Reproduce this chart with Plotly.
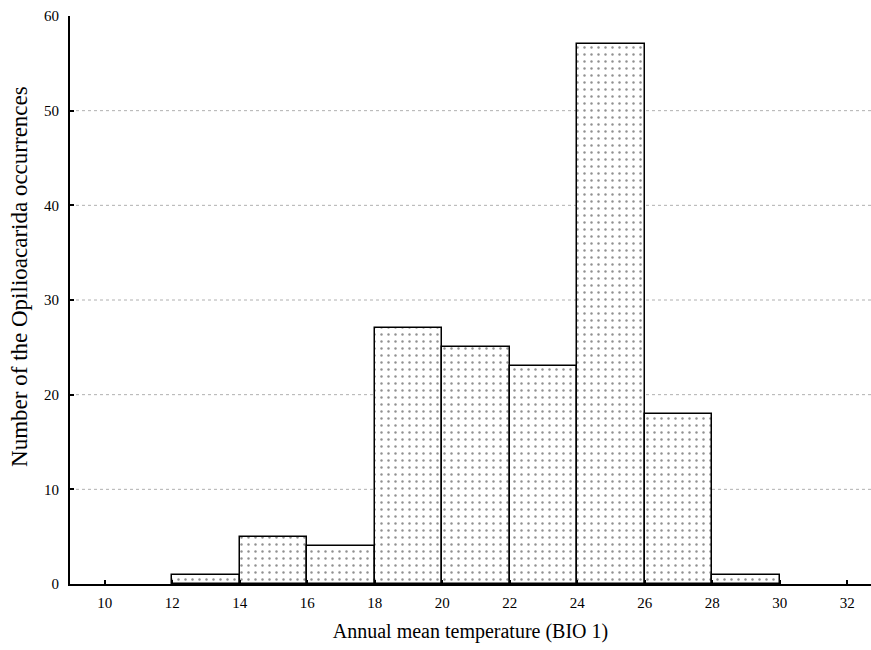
import plotly.graph_objects as go

bin_left = [12, 14, 16, 18, 20, 22, 24, 26, 28]
bin_width = 2
counts = [1, 5, 4, 27, 25, 23, 57, 18, 1]
x_ticks = [10, 12, 14, 16, 18, 20, 22, 24, 26, 28, 30, 32]
y_ticks = [0, 10, 20, 30, 40, 50, 60]
grid_y = [10, 20, 30, 40, 50]

centers = [b + bin_width / 2 for b in bin_left]

fig = go.Figure()
fig.add_trace(go.Bar(
    x=centers, y=counts, width=[bin_width] * len(counts),
    marker=dict(
        color="white",
        line=dict(color="black", width=1.5),
        pattern=dict(shape=".", fgcolor="#222222", bgcolor="white", size=7, solidity=0.1),
    ),
    showlegend=False,
))

for g in grid_y:
    fig.add_shape(type="line", xref="paper", yref="y", x0=0, x1=1, y0=g, y1=g,
                  line=dict(color="#b0b0b0", width=1, dash="dot"), layer="below")

fig.add_annotation(
    text="Number of the Opilioacarida occurrences", textangle=-90,
    xref="paper", yref="paper", x=-0.064, y=0.542, showarrow=False,
    xanchor="center", yanchor="middle", font=dict(size=23),
)

fig.update_layout(
    width=871, height=650,
    margin=dict(l=70, r=0, t=16, b=66),
    plot_bgcolor="white", paper_bgcolor="white",
    font=dict(family="Liberation Serif, Times New Roman, serif", size=15, color="black"),
    bargap=0,
)
fig.update_xaxes(
    range=[8.97, 32.7], tickvals=x_ticks, ticktext=[str(t) for t in x_ticks],
    ticks="inside", ticklen=4, tickwidth=1.5, tickcolor="black", ticklabelstandoff=4,
    showline=True, linecolor="black", linewidth=2, showgrid=False, zeroline=False,
    title=dict(text="Annual mean temperature (BIO 1)", font=dict(size=20), standoff=14),
)
fig.update_yaxes(
    range=[0, 60], tickvals=y_ticks,
    ticks="inside", ticklen=4, tickwidth=1.5, tickcolor="black", ticklabelstandoff=6,
    showline=True, linecolor="black", linewidth=2, showgrid=False, zeroline=False,
)

fig.write_html("out.html")
